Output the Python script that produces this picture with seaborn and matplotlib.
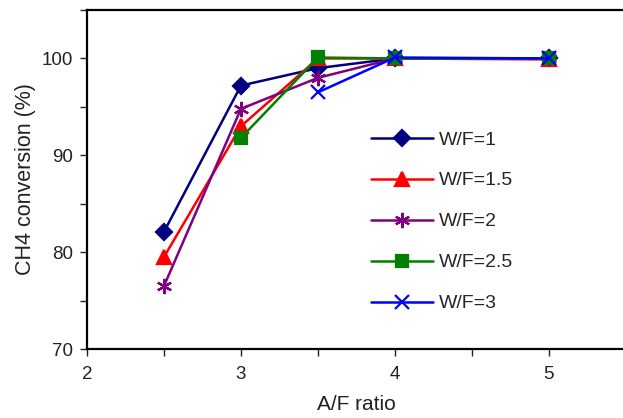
import matplotlib
matplotlib.use("Agg")
import matplotlib.pyplot as plt
import seaborn as sns
import pandas as pd
from matplotlib.ticker import MultipleLocator

sns.set_style("white")
plt.rcParams['font.family'] = ['Liberation Sans', 'DejaVu Sans']

# Data
wf1_x = [2.5, 3, 3.5, 4, 5]
wf1_y = [82.1, 97.2, 99.0, 100.0, 100.0]
wf15_x = [2.5, 3, 3.5, 4, 5]
wf15_y = [79.5, 93.0, 100.0, 100.0, 99.9]
wf2_x = [2.5, 3, 3.5, 4, 5]
wf2_y = [76.5, 94.8, 98.0, 100.0, 100.0]
wf25_x = [3, 3.5, 4, 5]
wf25_y = [91.8, 100.1, 100.0, 100.0]
wf3_x = [3.5, 4, 5]
wf3_y = [96.5, 100.1, 100.0]

labels = ["W/F=1", "W/F=1.5", "W/F=2", "W/F=2.5", "W/F=3"]
xs = [wf1_x, wf15_x, wf2_x, wf25_x, wf3_x]
ys = [wf1_y, wf15_y, wf2_y, wf25_y, wf3_y]
colors = ["#000080", "#FF0000", "#800080", "#008000", "#0000FF"]
markers = ["D", "^", (6, 2, 0), "s", "x"]
msizes = [8, 10, 11, 9, 10]

fig = plt.figure(figsize=(6.23, 4.18), dpi=100)
ax = fig.add_axes([0.1396, 0.165, 0.865, 0.811])

for x, y, lab, c, m, ms in zip(xs, ys, labels, colors, markers, msizes):
    df = pd.DataFrame({"x": x, "y": y})
    sns.lineplot(data=df, x="x", y="y", ax=ax, color=c, marker=m,
                 markersize=ms, linewidth=1.8, label=lab,
                 markeredgecolor=c, markerfacecolor=c, markeredgewidth=1.6)

ax.set_xlim(2, 5.5)
ax.set_ylim(70, 105)
ax.xaxis.set_major_locator(MultipleLocator(1))
ax.xaxis.set_minor_locator(MultipleLocator(0.5))
ax.yaxis.set_major_locator(MultipleLocator(10))
ax.yaxis.set_minor_locator(MultipleLocator(5))
ax.tick_params(axis='both', which='both', direction='out', left=True, bottom=True,
               width=1.0, colors='#222222', labelcolor='#222222', labelsize=13.5)
ax.tick_params(axis='both', which='major', length=5)
ax.tick_params(axis='both', which='minor', length=5)
ax.tick_params(axis='x', which='major', pad=7)
ax.tick_params(axis='y', which='major', pad=5)

for s in ['left', 'bottom', 'top']:
    ax.spines[s].set_visible(True)
    ax.spines[s].set_linewidth(1.6)
    ax.spines[s].set_color('black')
ax.spines['right'].set_visible(False)

ax.set_xlabel("A/F ratio", fontsize=15, color='#222222', labelpad=9)
ax.set_ylabel("CH4 conversion (%)", fontsize=15.5, color='#222222', labelpad=4)

leg = ax.legend(loc='upper left', bbox_to_anchor=(0.495, 0.695), frameon=False,
                fontsize=14, handlelength=3.2, labelspacing=1.2, handletextpad=0.3)

fig.savefig("out.png", dpi=100)
